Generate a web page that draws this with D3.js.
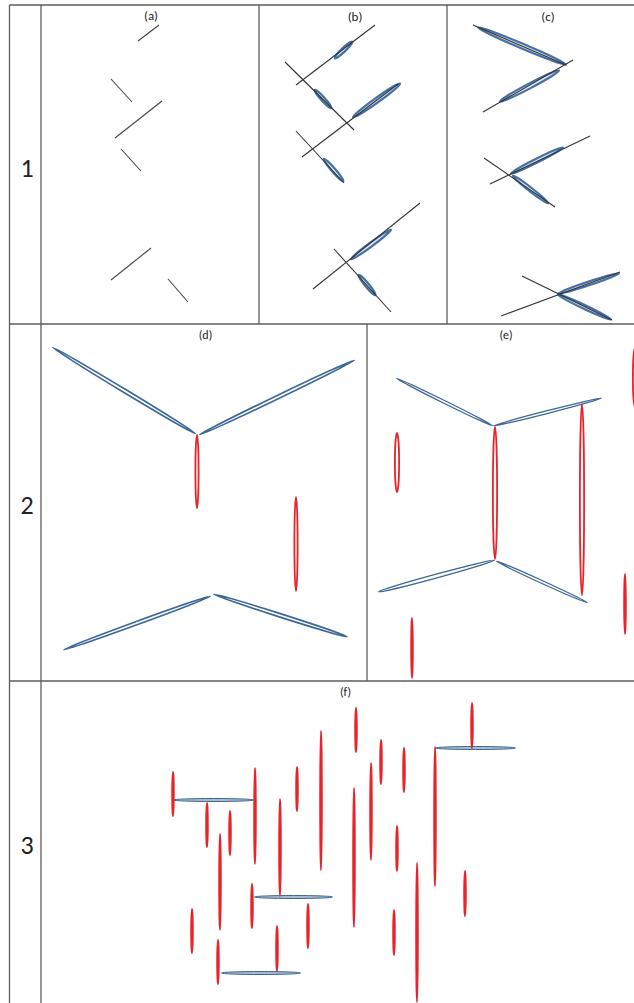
<!DOCTYPE html>
<html>
<head>
<meta charset="utf-8">
<title>Ellipse table</title>
<script src="https://d3js.org/d3.v7.min.js"></script>
<style>
  body { margin: 0; background: #fff; }
  text { font-family: Carlito, Lato, "Open Sans", sans-serif; fill: #222; }
</style>
</head>
<body>
<svg id="fig" width="634" height="1003"></svg>
<script>
// values are in cell-local units: [x1, y1, x2, y2] for lines,
// [x1, y1, x2, y2, width] for ellipses (end points of the long axis)
var rowLabels = ["1", "2", "3"];
var panelLabels = ["(a)", "(b)", "(c)", "(d)", "(e)", "(f)"];

var linesA = [
  [97, 36, 118, 20], [70, 74, 91, 97], [74, 133, 121, 96],
  [80, 144, 100, 166], [70, 275, 110, 243], [127, 274, 147, 297]
];

var linesB = [
  [37, 80, 116, 20], [26, 57, 95, 125], [43, 152, 139, 79],
  [37, 126, 85, 178], [54, 284, 161, 198], [75, 244, 132, 307]
];
var ellB = [
  [75, 54, 94, 36, 6], [55, 84, 73, 104, 6], [93, 113, 142, 78, 7],
  [64, 153, 85, 177, 6], [91, 255, 133, 224, 6], [99, 269, 117, 291, 6]
];

var linesC = [
  [26, 20, 119, 60], [36, 107, 126, 55], [43, 179, 143, 131],
  [37, 153, 108, 202], [54, 311, 173, 267], [75, 271, 165, 315]
];
var ellC = [
  [30, 22, 120, 60, 7], [52, 97, 113, 65, 7], [63, 169, 117, 142, 6],
  [65, 170, 102, 199, 6], [110, 289, 173, 268, 6], [110, 289, 165, 315, 6]
];

var blueD = [
  [11, 23, 155, 110, 5], [158, 111, 314, 36, 5],
  [22, 326, 170, 272, 5], [172, 270, 307, 313, 5]
];
var redD = [
  [156, 110, 156, 185, 5], [255, 172, 255, 268, 5]
];

var blueE = [
  [29, 54, 126, 102, 4], [126, 102, 235, 74, 4],
  [11, 268, 128, 236, 5], [129, 237, 221, 279, 4]
];
var redE = [
  [30, 108, 30, 169, 6], [128, 102, 128, 236, 6], [215, 79, 215, 272, 6],
  [45, 293, 45, 355, 3.5], [258, 249, 258, 311, 3.5], [268, 23, 268, 84, 6]
];

var blueF = [
  [132, 119, 213, 119, 4], [213, 216, 292, 216, 4],
  [180, 292, 260, 292, 4], [394, 67, 475, 67, 4]
];
var redF = [
  [132, 90, 132, 136, 3.5], [166, 121, 166, 167, 3.5], [189, 129, 189, 175, 3.5],
  [179, 152, 179, 250, 3.5], [214, 86, 214, 184, 3.5], [239, 117, 239, 216, 3.5],
  [256, 85, 256, 131, 3.5], [280, 49, 280, 190, 3.5], [211, 202, 211, 248, 3.5],
  [151, 227, 151, 273, 3.5], [267, 222, 267, 268, 3.5], [236, 244, 236, 291, 3.5],
  [177, 258, 177, 304, 3.5], [315, 26, 315, 72, 3.5], [340, 58, 340, 104, 3.5],
  [363, 66, 363, 112, 3.5], [330, 81, 330, 180, 3.5], [313, 106, 313, 247, 3.5],
  [356, 144, 356, 191, 3.5], [394, 65, 394, 206, 3.5], [431, 21, 431, 68, 3.5],
  [424, 189, 424, 236, 3.5], [353, 228, 353, 275, 3.5], [376, 181, 376, 322, 3.5]
];

var svg = d3.select("#fig");

// table cells
var cells = {
  a: {x: 41, y: 5, w: 218, h: 319},
  b: {x: 259, y: 5, w: 188, h: 319},
  c: {x: 447, y: 5, w: 200, h: 319},
  d: {x: 41, y: 324, w: 326, h: 357},
  e: {x: 367, y: 324, w: 280, h: 357},
  f: {x: 41, y: 681, w: 600, h: 330}
};

var BLUE = "#3d6797";
var RED = "#e8242b";

function scalesFor(c) {
  return {
    x: d3.scaleLinear().domain([0, c.w]).range([c.x, c.x + c.w]),
    y: d3.scaleLinear().domain([0, c.h]).range([c.y, c.y + c.h])
  };
}

function drawLines(g, s, data, color) {
  g.selectAll(null).data(data).enter().append("line")
    .attr("x1", function(d) { return s.x(d[0]); })
    .attr("y1", function(d) { return s.y(d[1]); })
    .attr("x2", function(d) { return s.x(d[2]); })
    .attr("y2", function(d) { return s.y(d[3]); })
    .attr("stroke", color)
    .attr("stroke-width", 1.1);
}

function drawEllipses(g, s, data, stroke, sw, fill) {
  g.selectAll(null).data(data).enter().append("ellipse")
    .attr("transform", function(d) {
      var x1 = s.x(d[0]), y1 = s.y(d[1]), x2 = s.x(d[2]), y2 = s.y(d[3]);
      var a = Math.atan2(y2 - y1, x2 - x1) * 180 / Math.PI;
      return "translate(" + (x1 + x2) / 2 + "," + (y1 + y2) / 2 + ") rotate(" + a + ")";
    })
    .attr("rx", function(d) {
      var dx = s.x(d[2]) - s.x(d[0]), dy = s.y(d[3]) - s.y(d[1]);
      return Math.max(1, Math.sqrt(dx * dx + dy * dy) / 2 - sw / 2);
    })
    .attr("ry", function(d) { return Math.max(0.4, d[4] / 2 - sw / 2); })
    .attr("fill", fill)
    .attr("stroke", stroke)
    .attr("stroke-width", sw);
}

// panel a
var sa = scalesFor(cells.a);
drawLines(svg.append("g"), sa, linesA, "#444");

// panel b
var sb = scalesFor(cells.b);
drawEllipses(svg.append("g"), sb, ellB, "#4571a3", 2.2, "#dfe7f1");
drawLines(svg.append("g"), sb, linesB, "#333");

// panel c
var sc = scalesFor(cells.c);
drawEllipses(svg.append("g"), sc, ellC, "#4571a3", 2.2, "#dfe7f1");
drawLines(svg.append("g"), sc, linesC, "#333");

// panel d
var sd = scalesFor(cells.d);
drawEllipses(svg.append("g"), sd, blueD, BLUE, 1.6, "none");
drawEllipses(svg.append("g"), sd, redD, RED, 1.8, "none");

// panel e
var se = scalesFor(cells.e);
drawEllipses(svg.append("g"), se, blueE, BLUE, 1.3, "none");
drawEllipses(svg.append("g"), se, redE, RED, 1.8, "none");

// panel f
var sf = scalesFor(cells.f);
drawEllipses(svg.append("g"), sf, blueF, BLUE, 1, "#a9bbd2");
drawEllipses(svg.append("g"), sf, redF, RED, 1.9, "#f4a0a3");

// grid
var grid = svg.append("g").attr("stroke", "#5c5c5c").attr("stroke-width", 1.3);
var gl = [
  [9.5, 5, 9.5, 1003], [9.5, 5, 634, 5], [41, 5, 41, 1003],
  [9.5, 324, 634, 324], [9.5, 681, 634, 681],
  [259, 5, 259, 324], [447, 5, 447, 324], [367, 324, 367, 681]
];
grid.selectAll("line").data(gl).enter().append("line")
  .attr("x1", function(d) { return d[0]; })
  .attr("y1", function(d) { return d[1]; })
  .attr("x2", function(d) { return d[2]; })
  .attr("y2", function(d) { return d[3]; });

// row numbers
var rowY = [177, 514, 854];
svg.selectAll("text.row").data(rowLabels).enter().append("text")
  .attr("class", "row")
  .attr("x", 27)
  .attr("y", function(d, i) { return rowY[i]; })
  .attr("text-anchor", "middle")
  .attr("font-size", 26)
  .text(function(d) { return d; });

// panel labels
var labelPos = [[151, 20, 13], [355, 21, 13], [548, 21, 13], [205.5, 339, 12], [506, 339, 12], [345.5, 696, 12]];
svg.selectAll("text.pl").data(panelLabels).enter().append("text")
  .attr("class", "pl")
  .attr("x", function(d, i) { return labelPos[i][0]; })
  .attr("y", function(d, i) { return labelPos[i][1]; })
  .attr("font-size", function(d, i) { return labelPos[i][2]; })
  .attr("text-anchor", "middle")
  .text(function(d) { return d; });
</script>
</body>
</html>
